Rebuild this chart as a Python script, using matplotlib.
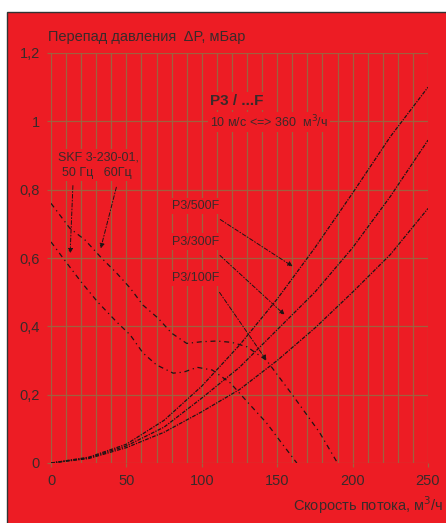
# coding=utf-8

import numpy as np
from matplotlib import pyplot as plt
from matplotlib.patches import Rectangle

# system curves (flow m3/h -> dP mbar)
flow = [0, 25, 50, 75, 100, 125, 150, 175, 200, 225, 250]
p3_500f = [0, 0.017, 0.055, 0.125, 0.225, 0.345, 0.48, 0.63, 0.79, 0.955, 1.1]
p3_300f = [0, 0.015, 0.05, 0.105, 0.19, 0.28, 0.39, 0.5, 0.63, 0.78, 0.945]
p3_100f = [0, 0.013, 0.045, 0.09, 0.15, 0.215, 0.3, 0.395, 0.5, 0.61, 0.745]

# fan SKF 3-230-01
fan60_x = [0, 12.5, 22.5, 33.5, 43.5, 52.5, 61, 71, 80, 90, 100, 110, 120, 130, 143, 160, 178, 190]
fan60_y = [0.76, 0.687, 0.653, 0.6, 0.556, 0.512, 0.462, 0.424, 0.38, 0.35, 0.355, 0.357, 0.353,
           0.34, 0.3, 0.2, 0.09, 0.0]
fan50_x = [0, 10, 20, 31, 43.5, 52.5, 61, 70, 81, 88, 97, 107, 119, 131, 143, 153, 163]
fan50_y = [0.647, 0.588, 0.53, 0.471, 0.413, 0.375, 0.322, 0.287, 0.263, 0.266, 0.28, 0.272,
           0.234, 0.175, 0.117, 0.058, 0.0]

xticks = [0, 50, 100, 150, 200, 250]
yticks = [0, 0.2, 0.4, 0.6, 0.8, 1.0, 1.2]
ytick_labels = ['0', '0,2', '0,4', '0,6', '0,8', '1', '1,2']

red = '#ed1c24'
grid_c = '#a0603e'
txt_c = '#3a2a2a'
line_c = '#1e1414'

plt.rcParams['font.family'] = ['Liberation Sans', 'DejaVu Sans']

fig = plt.figure(figsize=(4.46, 5.23), dpi=100)
fig.patch.set_facecolor('white')
bg = Rectangle((7 / 446., -0.01), 1.0, 1 - 12 / 523. + 0.01,
               transform=fig.transFigure, facecolor=red,
               edgecolor='#333333', lw=1.0, zorder=-5)
fig.patches.append(bg)

ax = fig.add_axes([51 / 446., 60 / 523., 377 / 446., 410 / 523.])
ax.set_zorder(2)
ax.set_facecolor(red)
ax.set_xlim(0, 250)
ax.set_ylim(0, 1.2)

for x in range(0, 251, 10):
    ax.axvline(x, color=grid_c, lw=0.9, zorder=1)
for y in yticks:
    ax.axhline(y, color=grid_c, lw=0.9, zorder=1)

for s in ax.spines.values():
    s.set_visible(False)

ax.set_xticks(xticks)
ax.set_xticklabels([str(v) for v in xticks])
ax.set_yticks(yticks)
ax.set_yticklabels(ytick_labels)
ax.tick_params(colors=grid_c, length=3, width=0.9, labelcolor=txt_c, labelsize=10.5, pad=5)

dash_sys = (0, (3, 1, 1, 1))
dash_fan = (0, (4, 3, 1, 3))
ax.plot(flow, p3_500f, color=line_c, lw=0.9, ls=dash_sys, zorder=3)
ax.plot(flow, p3_300f, color=line_c, lw=0.9, ls=dash_sys, zorder=3)
ax.plot(flow, p3_100f, color=line_c, lw=0.9, ls=dash_sys, zorder=3)
ax.plot(fan60_x, fan60_y, color=line_c, lw=0.9, ls=dash_fan, zorder=3)
ax.plot(fan50_x, fan50_y, color=line_c, lw=0.9, ls=dash_fan, zorder=3)

box = dict(facecolor=red, edgecolor='none', pad=1.5)

ax.text(105.4, 1.06, 'P3 / ...F', fontsize=11, fontweight='bold', color=txt_c,
        va='center', ha='left', bbox=box, zorder=4)
ax.text(105.4, 0.998, '10 м/с <=> 360  м$^3$/ч', fontsize=9, color=txt_c,
        va='center', ha='left', bbox=box, zorder=4)
ax.text(4.6, 0.895, 'SKF 3-230-01,', fontsize=9, color=txt_c,
        va='center', ha='left', bbox=box, zorder=4)
ax.text(7.5, 0.849, '50 Гц   60Гц', fontsize=9, color=txt_c,
        va='center', ha='left', bbox=box, zorder=4)

labels = ['P3/500F', 'P3/300F', 'P3/100F']
label_y = [0.752, 0.648, 0.541]
arrow_to = [(161.8, 0.571), (156.3, 0.428), (143.9, 0.294)]
for lab, ly, tgt in zip(labels, label_y, arrow_to):
    ax.text(80.2, ly, lab, fontsize=9, color=txt_c, va='center', ha='left',
            bbox=box, zorder=4)
    ax.annotate('', xy=tgt, xytext=(110.7, ly - 0.035),
                arrowprops=dict(arrowstyle='-|>', color=line_c, lw=0.7,
                                ls=(0, (4, 2, 1, 2)), mutation_scale=7),
                zorder=4)

ax.annotate('', xy=(32.5, 0.62), xytext=(43.8, 0.815),
            arrowprops=dict(arrowstyle='-|>', color=line_c, lw=0.7,
                            ls=(0, (4, 2, 1, 2)), mutation_scale=7), zorder=4)
ax.annotate('', xy=(12.6, 0.605), xytext=(14.6, 0.82),
            arrowprops=dict(arrowstyle='-|>', color=line_c, lw=0.7,
                            ls=(0, (4, 2, 1, 2)), mutation_scale=7), zorder=4)

fig.text(48 / 446., 1 - 37 / 523., 'Перепад давления  ΔP, мБар', fontsize=10.5,
         color=txt_c, ha='left', va='center')
fig.text(443 / 446., 1 - 505 / 523., 'Скорость потока, м$^3$/ч', fontsize=10.5,
         color=txt_c, ha='right', va='center')

fig.savefig('out.png', dpi=100, facecolor=fig.get_facecolor())
